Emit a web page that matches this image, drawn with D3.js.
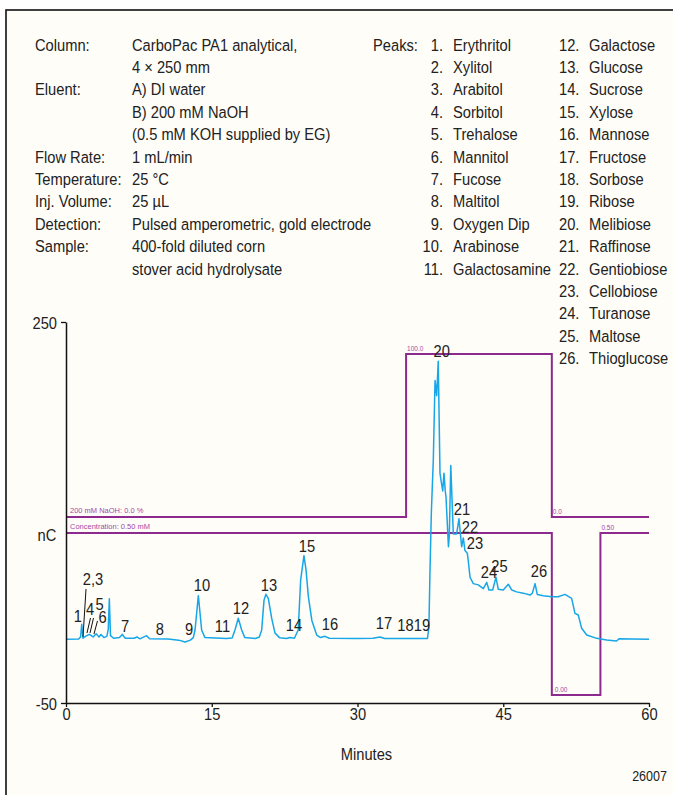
<!DOCTYPE html>
<html>
<head>
<meta charset="utf-8">
<script src="https://cdn.jsdelivr.net/npm/d3@7"></script>
<style>
  html, body { margin: 0; padding: 0; background: #ffffff; }
  svg { display: block; }
  text { font-family: "Liberation Sans", Arial, sans-serif; fill: #222; }
</style>
</head>
<body>
<script>
// Method conditions (label / value rows)
const conditionLabels = ["Column:", "", "Eluent:", "", "", "Flow Rate:", "Temperature:", "Inj. Volume:", "Detection:", "Sample:", ""];
const conditionValues = [
  "CarboPac PA1 analytical,", "4 × 250 mm",
  "A) DI water", "B) 200 mM NaOH", "(0.5 mM KOH supplied by EG)",
  "1 mL/min", "25 °C", "25 µL",
  "Pulsed amperometric, gold electrode",
  "400-fold diluted corn", "stover acid hydrolysate"
];

// Peak identities
const peakNames = [
  "Erythritol", "Xylitol", "Arabitol", "Sorbitol", "Trehalose", "Mannitol",
  "Fucose", "Maltitol", "Oxygen Dip", "Arabinose", "Galactosamine",
  "Galactose", "Glucose", "Sucrose", "Xylose", "Mannose", "Fructose",
  "Sorbose", "Ribose", "Melibiose", "Raffinose", "Gentiobiose", "Cellobiose",
  "Turanose", "Maltose", "Thioglucose"
];

// Axis ticks
const xTicks = [0, 15, 30, 45, 60];
const yTicks = [250, -50];

// Detector signal: [minutes, nC]
const signal = [
  [0, 0.2], [1.3, 0.3], [1.5, 2], [1.62, 12], [1.75, 1], [2.0, 2.5], [2.4, 4], [2.8, 2],
  [3.1, 4.5], [3.4, 2], [3.6, 4], [3.9, 1.5], [4.2, 2.5], [4.35, 8], [4.46, 32], [4.58, 3],
  [4.9, 1], [5.5, 1.5], [5.79, 4], [6.1, 1], [7.0, 1], [7.31, 2], [7.6, 0.5], [8.3, 3],
  [8.6, 0.5], [10.5, 0.3], [11.6, -0.5], [12.25, -2], [12.8, -0.5], [13.1, 1.5],
  [13.28, 7.5], [13.62, 34.5], [13.96, 7.5], [14.3, 1.5], [16.5, 0.8], [17.1, 1.2],
  [17.39, 7.5], [17.73, 16.7], [18.08, 7.5], [18.4, 1.5], [19.5, 0.8], [19.9, 2],
  [20.14, 7.5], [20.38, 31], [20.58, 35.6], [20.82, 32.4], [21.17, 16.7], [21.51, 5],
  [22.0, 1.3], [22.7, 0.8], [23.05, 1.5], [23.5, 1], [23.9, 7.5], [24.15, 47], [24.49, 66],
  [24.7, 55], [24.94, 34], [25.3, 15], [25.8, 3.5], [26.2, 1.5], [26.65, 2.5], [27.1, 1],
  [30, 0.8], [31.6, 1], [32.31, 2], [32.8, 0.8], [35, 0.8], [37.2, 0.8], [37.35, 10],
  [37.45, 50], [37.6, 100], [37.8, 141], [37.98, 204], [38.15, 192], [38.31, 219],
  [38.49, 131], [38.6, 125], [38.77, 117], [38.9, 131], [39.03, 117], [39.11, 112],
  [39.36, 73], [39.45, 82], [39.6, 137], [39.86, 83], [40.2, 83], [40.44, 95], [40.62, 81],
  [40.72, 73], [40.89, 80], [41.06, 70], [41.3, 68], [41.4, 62], [41.58, 49], [41.92, 44],
  [42.43, 43], [42.95, 40], [43.3, 45], [43.53, 39], [43.91, 39], [44.25, 49], [44.49, 39.5],
  [45.0, 39], [45.52, 43.5], [45.87, 39], [46.38, 37.5], [47.06, 36.5], [47.75, 35],
  [48.0, 36.5], [48.27, 44], [48.5, 35.5], [49.12, 34.5], [49.98, 33.7], [50.66, 33.7],
  [51.35, 35.5], [52.04, 32.4], [52.38, 20.6], [52.72, 19.3], [53.07, 8.8], [53.59, 3.5],
  [54.62, 0.9], [55.64, -0.4], [56.67, -1.2], [56.91, 0.6], [58.38, 0.4], [60, 0.2]
];

// Eluent program: 200 mM NaOH (%) and KOH concentration (mM)
const gradientTimes = [0, 35, 35, 50, 50, 60];
const gradientPct = [0, 0, 100, 100, 0, 0];
const concTimes = [0, 50, 50, 55, 55, 60];
const concValues = [0.5, 0.5, 0, 0, 0.5, 0.5];

// Peak number labels: [text, minutes, nC]
const peakLabels = [
  ["1", 1.23, 13.8], ["2,3", 2.78, 42.9], ["4", 2.47, 19.3], ["5", 3.45, 23.2], ["6", 3.76, 13],
  ["7", 6.07, 6.1], ["8", 9.67, 3.5], ["9", 12.66, 3.5], ["10", 14.0, 38.4], ["11", 16.1, 6.1],
  ["12", 18.01, 20.1], ["13", 20.89, 38.2], ["14", 23.46, 6.7], ["15", 24.8, 69.1],
  ["16", 27.17, 7.5], ["17", 32.73, 8.3], ["18", 34.94, 6.7], ["19", 36.64, 6.7],
  ["20", 38.66, 222.7], ["21", 40.75, 98], ["22", 41.58, 83.9], ["23", 42.09, 71.3],
  ["24", 43.53, 48.4], ["25", 44.61, 53.1], ["26", 48.68, 49.4]
];
// Leader lines for crowded early peaks: [t1, v1, t2, v2]
const leaders = [
  [2.06, 39.8, 1.75, 2.0],
  [2.52, 16.9, 2.16, 5.1],
  [2.83, 16.9, 2.47, 5.1],
  [3.24, 14.6, 2.88, 4.3]
];

const W = 673, H = 795;
const NARROW = 0.865;   // horizontal squeeze giving a condensed face
const FS = 17;
const svg = d3.select("body").append("svg").attr("width", W).attr("height", H);

// Condensed text placed at (x, y)
function ntext(g, xPos, yPos, str, anchor, size) {
  return g.append("text")
    .attr("transform", `translate(${xPos},${yPos}) scale(${NARROW},1)`)
    .attr("text-anchor", anchor || "start")
    .style("font-size", (size || FS) + "px")
    .text(str);
}

// Frame
svg.append("rect").attr("x", 6).attr("y", 10).attr("width", W + 20).attr("height", H + 20)
  .attr("fill", "#fffdf8").attr("stroke", "#111").attr("stroke-width", 1.6);

// Header block
const lineH = 22.4, headTop = 50.5;
const head = svg.append("g");
conditionLabels.forEach((t, i) => {
  if (t) ntext(head, 35, headTop + i * lineH, t);
});
conditionValues.forEach((t, i) => ntext(head, 132, headTop + i * lineH, t));
ntext(head, 373, headTop, "Peaks:");
peakNames.forEach((n, i) => {
  const num = i + 1;
  if (i < 11) {
    ntext(head, 443, headTop + i * lineH, num + ".", "end");
    ntext(head, 453, headTop + i * lineH, n);
  } else {
    const r = i - 11;
    ntext(head, 559, headTop + r * lineH, num + ".");
    ntext(head, 589, headTop + r * lineH, n);
  }
});

// Scales
const x = d3.scaleLinear().domain([0, 60]).range([66, 649]);
const y = d3.scaleLinear().domain([-50, 250]).range([703, 322]);
const yPct = d3.scaleLinear().domain([0, 100]).range([517, 354]);
const yConc = d3.scaleLinear().domain([0, 0.5]).range([695, 533]);

const purple = "#8c2a8e", purpleText = "#a447a6";

// Eluent program traces
const stepLine = d3.line().x(d => x(d[0])).y(d => d[1]);
svg.append("path")
  .datum(gradientTimes.map((t, i) => [t, yPct(gradientPct[i])]))
  .attr("d", stepLine).attr("fill", "none").attr("stroke", purple).attr("stroke-width", 2);
svg.append("path")
  .datum(concTimes.map((t, i) => [t, yConc(concValues[i])]))
  .attr("d", stepLine).attr("fill", "none").attr("stroke", purple).attr("stroke-width", 2);

const small = svg.append("g");
function tag(xPos, yPos, str, size) {
  small.append("text").attr("x", xPos).attr("y", yPos)
    .style("font-size", size + "px").style("fill", purpleText).text(str);
}
tag(x(0) + 4, yPct(0) - 4, "200 mM NaOH: 0.0 %", 7.5);
tag(x(0) + 4, yConc(0.5) - 4, "Concentration: 0.50 mM", 7.5);
tag(x(35) + 1, yPct(100) - 3, "100.0", 6.5);
tag(x(50) + 1, yPct(0) - 3, "0.0", 6.5);
tag(x(55) + 1, yConc(0.5) - 3, "0.50", 6.5);
tag(x(50) + 3, yConc(0) - 3, "0.00", 6.5);

// Signal trace
svg.append("path").datum(signal)
  .attr("d", d3.line().x(d => x(d[0])).y(d => y(d[1])))
  .attr("fill", "none").attr("stroke", "#17a6e8").attr("stroke-width", 1.5)
  .attr("stroke-linejoin", "round");

// Axes
const xAxis = svg.append("g").attr("transform", `translate(0,${y(-50)})`)
  .call(d3.axisBottom(x).tickValues(xTicks).tickSize(4).tickSizeOuter(0).tickFormat(d => String(d)));
const yAxis = svg.append("g").attr("transform", `translate(${x(0)},0)`)
  .call(d3.axisLeft(y).tickValues(yTicks).tickSize(5).tickSizeOuter(0).tickFormat(d => String(d)));
[xAxis, yAxis].forEach(a => {
  a.attr("font-family", null).attr("font-size", null);
  a.select(".domain").attr("stroke", "#111").attr("stroke-width", 1.5);
  a.selectAll(".tick line").attr("stroke", "#111").attr("stroke-width", 1.3);
  a.selectAll(".tick text").style("font-size", FS + "px").attr("fill", "#222");
});
xAxis.selectAll(".tick text").attr("x", null).attr("y", null).attr("dy", null)
  .attr("transform", `translate(0,${5 + 0.72 * FS}) scale(${NARROW},1)`);
yAxis.selectAll(".tick text").attr("x", null).attr("y", null).attr("dy", null)
  .attr("transform", `translate(-9,${0.36 * FS}) scale(${NARROW},1)`);

ntext(svg, 47, y(82) + 6, "nC", "middle");
ntext(svg, x(30) + 9, 760, "Minutes", "middle");
ntext(svg, 667, 781, "26007", "end", 14.5);

// Peak labels and leaders
svg.append("g").selectAll("line").data(leaders).join("line")
  .attr("x1", d => x(d[0])).attr("y1", d => y(d[1]))
  .attr("x2", d => x(d[2])).attr("y2", d => y(d[3]))
  .attr("stroke", "#111").attr("stroke-width", 1);
const lbl = svg.append("g");
peakLabels.forEach(d => ntext(lbl, x(d[1]), y(d[2]), d[0], "middle"));
</script>
</body>
</html>
